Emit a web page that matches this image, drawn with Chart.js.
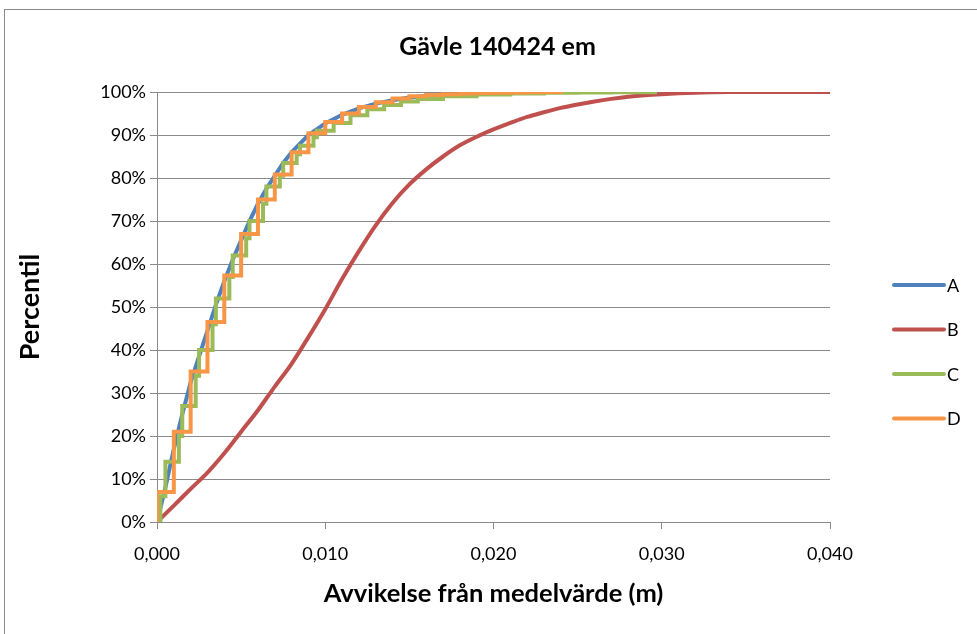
<!DOCTYPE html>
<html>
<head>
<meta charset="utf-8">
<script src="https://cdn.jsdelivr.net/npm/chart.js@4/dist/chart.umd.min.js"></script>
<style>
  html, body { margin: 0; padding: 0; background: #fff; overflow: hidden; }
  #frame { position: absolute; left: 4px; top: 9px; width: 985px; height: 690px; border: 1px solid #8a8a8a; background: #fff; }
</style>
</head>
<body>
<div id="frame"><canvas id="myChart" width="985" height="690"></canvas></div>
<script>
// avvikelse i meter, percentil i %
const seriesNames = ["A", "B", "C", "D"];
const seriesColors = ["#4F81BD", "#C0504D", "#9BBB59", "#F79646"];

const aX = [0, 0.00025, 0.0005, 0.001, 0.0015, 0.002, 0.0025, 0.003, 0.0035, 0.004, 0.0045, 0.005, 0.0055, 0.006, 0.0065, 0.007, 0.0075, 0.008, 0.009, 0.010, 0.011, 0.012, 0.013, 0.014, 0.015, 0.016, 0.018, 0.020, 0.022, 0.024];
const aPct = [0, 4, 8, 17, 25, 32.5, 38.5, 44.5, 50.5, 56, 61, 65.5, 70, 74, 77.5, 80.5, 83.5, 86, 90, 92.7, 94.7, 96.2, 97.3, 98.1, 98.7, 99.1, 99.6, 99.85, 99.95, 100];

const bX = [0, 0.001, 0.002, 0.003, 0.004, 0.005, 0.006, 0.007, 0.008, 0.009, 0.010, 0.011, 0.012, 0.013, 0.014, 0.015, 0.016, 0.017, 0.018, 0.019, 0.020, 0.021, 0.022, 0.023, 0.024, 0.025, 0.026, 0.027, 0.028, 0.029, 0.030, 0.031, 0.032, 0.033, 0.034, 0.035, 0.040];
const bPct = [0, 3.8, 7.7, 11.5, 16, 21, 26, 31.5, 36.8, 43, 49.5, 56.5, 63, 69, 74.2, 78.5, 82, 85, 87.6, 89.6, 91.3, 92.8, 94.2, 95.3, 96.3, 97.1, 97.8, 98.4, 98.9, 99.25, 99.5, 99.7, 99.85, 99.93, 99.98, 100, 100];

const cX = [0.0002, 0.0002, 0.0005, 0.0013, 0.0015, 0.0023, 0.0025, 0.0033, 0.0035, 0.0043, 0.0045, 0.0053, 0.0055, 0.0063, 0.0065, 0.0073, 0.0075, 0.0083, 0.0085, 0.0093, 0.0095, 0.0105, 0.0115, 0.0125, 0.0135, 0.0145, 0.0155, 0.017, 0.019, 0.021, 0.023, 0.025, 0.027, 0.0296];
const cPct = [0, 6, 14, 20, 27, 34, 40, 46, 52, 57, 62, 66, 70, 74, 78, 80.5, 83.5, 85.5, 87.5, 89.5, 91, 92.8, 94.6, 96, 97, 97.8, 98.4, 99, 99.4, 99.65, 99.8, 99.9, 99.96, 100];

const dX = [0, 0, 0.001, 0.002, 0.003, 0.004, 0.005, 0.006, 0.007, 0.008, 0.009, 0.010, 0.011, 0.012, 0.013, 0.014, 0.015, 0.016, 0.017, 0.018, 0.019, 0.020, 0.021, 0.022, 0.023, 0.024];
const dPct = [0, 7, 21, 35, 46.5, 57.3, 67, 75, 80.8, 86, 90.4, 93, 95, 96.5, 97.6, 98.5, 99, 99.3, 99.5, 99.65, 99.75, 99.83, 99.9, 99.95, 99.98, 100];

const xTicks = [0, 0.01, 0.02, 0.03, 0.04];

function toPoints(xs, ys) {
  return xs.map((x, i) => ({ x: x, y: ys[i] }));
}

const FONT = "Lato";
Chart.defaults.font.family = FONT;
Chart.defaults.color = "#000";

// egen legend till höger, som i Excel
const sideLegend = {
  id: "sideLegend",
  afterDraw(chart) {
    const ctx = chart.ctx;
    const left = chart.chartArea.right + 64;
    const top = 275;
    ctx.save();
    ctx.font = "18px " + FONT;
    ctx.textBaseline = "middle";
    chart.data.datasets.forEach((ds, i) => {
      const y = top + i * 44.5;
      ctx.strokeStyle = ds.borderColor;
      ctx.lineWidth = 4;
      ctx.lineCap = "round";
      ctx.beginPath();
      ctx.moveTo(left, y);
      ctx.lineTo(left + 50, y);
      ctx.stroke();
      ctx.fillStyle = "#000";
      ctx.fillText(ds.label, left + 53, y + 1);
    });
    ctx.restore();
  }
};

const gridColor = "#8a8a8a";
const ctx = document.getElementById("myChart");

new Chart(ctx, {
  type: "line",
  data: {
    datasets: [
      { label: seriesNames[0], data: toPoints(aX, aPct), borderColor: seriesColors[0], backgroundColor: seriesColors[0], borderWidth: 4, pointRadius: 0, order: 3 },
      { label: seriesNames[1], data: toPoints(bX, bPct), borderColor: seriesColors[1], backgroundColor: seriesColors[1], borderWidth: 4, pointRadius: 0, cubicInterpolationMode: "monotone", order: 2 },
      { label: seriesNames[2], data: toPoints(cX, cPct), borderColor: seriesColors[2], backgroundColor: seriesColors[2], borderWidth: 4, pointRadius: 0, stepped: "before", order: 1 },
      { label: seriesNames[3], data: toPoints(dX, dPct), borderColor: seriesColors[3], backgroundColor: seriesColors[3], borderWidth: 4, pointRadius: 0, stepped: "before", order: 0 }
    ]
  },
  options: {
    responsive: false,
    animation: false,
    devicePixelRatio: 1,
    layout: { padding: { left: 0, right: 0, top: 0, bottom: 78 } },
    plugins: {
      legend: { display: false },
      tooltip: { enabled: false },
      title: {
        display: true,
        text: "Gävle 140424 em",
        color: "#000",
        font: { family: FONT, size: 25, weight: "bold", lineHeight: 1.2 },
        padding: { top: 22, bottom: 30 }
      }
    },
    scales: {
      x: {
        type: "linear",
        min: 0,
        max: 0.04,
        afterBuildTicks: (scale) => { scale.ticks = xTicks.map(v => ({ value: v })); },
        ticks: {
          font: { family: FONT, size: 18 },
          padding: 14,
          maxRotation: 0,
          callback: (v) => v.toFixed(3).replace(".", ",")
        },
        grid: { drawOnChartArea: false, drawTicks: true, tickLength: 7, color: gridColor },
        border: { display: true, color: gridColor, width: 1 },
        title: {
          display: true,
          text: "Avvikelse från medelvärde (m)",
          color: "#000",
          font: { family: FONT, size: 25.5, weight: "bold", lineHeight: 1.2 },
          padding: { top: 0, bottom: 12.7 }
        },
        afterFit: (scale) => { scale.height = 100; }
      },
      y: {
        min: 0,
        max: 100,
        ticks: {
          stepSize: 10,
          font: { family: FONT, size: 18 },
          padding: 4,
          callback: (v) => v + "%"
        },
        grid: { color: gridColor, tickLength: 7, drawTicks: true },
        border: { display: true, color: gridColor, width: 1 },
        title: {
          display: true,
          text: "Percentil",
          color: "#000",
          font: { family: FONT, size: 27, weight: "bold", lineHeight: 1.2 },
          padding: { top: 8.8, bottom: 0 }
        },
        afterFit: (scale) => { scale.width = 152; }
      },
      y2: {
        position: "right",
        display: true,
        grid: { display: false },
        border: { display: false },
        ticks: { display: false },
        afterFit: (scale) => { scale.width = 160; }
      }
    }
  },
  plugins: [sideLegend]
});
</script>
</body>
</html>
